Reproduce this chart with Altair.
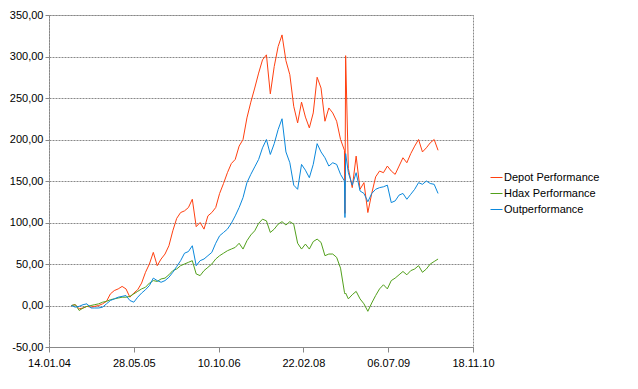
import altair as alt
import pandas as pd

# ---- data ----
start_date = "2004-05-25"
step_days = 23

depot = [0, 1, -4, -3, -1, -2, -1, 0, 2, 5,
         14, 18, 20, 23, 20, 10, 15, 19, 27, 40,
         50, 64, 48, 56, 62, 72, 90, 105, 112, 114,
         118, 128, 95, 100, 92, 108, 112, 118, 135, 147,
         160, 171, 176, 192, 200, 226, 245, 262, 280, 296,
         302, 255, 288, 312, 326, 295, 278, 240, 220, 245,
         227, 214, 232, 275, 262, 222, 238, 232, 222, 200,
         187, 165, 142, 180, 140, 148, 112, 135, 155, 162,
         160, 168, 162, 158, 168, 178, 172, 183, 192, 200,
         185, 190, 196, 200, 187]

hdax = [0, 1, -6, -3, -1, 0, 1, 2, 4, 5,
        7, 8, 9, 10, 10, 11, 14, 17, 20, 22,
        27, 30, 29, 32, 33, 37, 42, 44, 48, 50,
        52, 54, 38, 36, 42, 46, 50, 56, 60, 63,
        66, 68, 70, 75, 68, 78, 85, 90, 99, 104,
        102, 88, 92, 98, 101, 97, 101, 98, 75, 68,
        74, 68, 77, 80, 76, 60, 62, 62, 58, 45,
        16, 8, 13, 17, 8, 2, -7, 3, 12, 20,
        25, 20, 30, 33, 37, 41, 37, 42, 44, 48,
        40, 44, 50, 53, 56]

outperf = [0, -2, -1, 1, 2, -3, -3, -3, -2, 2,
           6, 8, 10, 11, 12, 6, 4, 10, 15, 19,
           24, 33, 30, 28, 30, 34, 40, 47, 54, 63,
           65, 72, 48, 54, 56, 60, 64, 75, 84, 88,
           92, 99, 108, 118, 130, 148, 158, 167, 176, 190,
           200, 182, 195, 212, 225, 185, 172, 145, 140, 170,
           163, 154, 170, 195, 185, 178, 168, 172, 170, 158,
           150, 160, 145, 160, 138, 135, 125, 135, 140, 142,
           143, 145, 124, 126, 133, 135, 128, 134, 140, 148,
           146, 150, 147, 146, 135]

# extra daily points around the October 2008 spike
extra_dates = ["2008-10-24", "2008-10-28"]
extra_depot = [111, 301]
extra_hdax = [14, 15]
extra_outperf = [106, 183]

series_names = ["Depot Performance", "Hdax Performance", "Outperformance"]
colors = ["#ff4010", "#52a01c", "#0a88dc"]
x_ticks = ["2004-01-14", "2005-05-28", "2006-10-10", "2008-02-22", "2009-07-06", "2010-11-18"]
y_ticks = [-50, 0, 50, 100, 150, 200, 250, 300, 350]

# ---- build table ----
dates = pd.date_range(start_date, periods=len(depot), freq=f"{step_days}D")
rows = []
for name, vals, ex in zip(series_names, [depot, hdax, outperf],
                          [extra_depot, extra_hdax, extra_outperf]):
    for d, v in zip(dates, vals):
        rows.append({"date": d.strftime("%Y-%m-%d"), "value": v, "series": name})
    for d, v in zip(extra_dates, ex):
        rows.append({"date": d, "value": v, "series": name})
df = pd.DataFrame(rows).sort_values(["series", "date"]).reset_index(drop=True)
df["order"] = range(len(df))


def dt(s):
    y, m, d = [int(p) for p in s.split("-")]
    return alt.DateTime(year=y, month=m, date=d, utc=True)


font = "Liberation Sans"

chart = alt.Chart(df).mark_line(strokeWidth=1).encode(
    x=alt.X("date:T",
            scale=alt.Scale(type="utc", domain=[dt(x_ticks[0]), dt(x_ticks[-1])], nice=False),
            axis=alt.Axis(values=[dt(t) for t in x_ticks], format="%d.%m.%y", title=None,
                          grid=False, tickSize=5, labelPadding=5, labelFlush=False,
                          domainColor="#888888", tickColor="#888888")),
    y=alt.Y("value:Q",
            scale=alt.Scale(domain=[-50, 350], nice=False, zero=False),
            axis=alt.Axis(values=y_ticks, title=None, tickSize=4, labelPadding=2,
                          labelExpr="(datum.value < 0 ? '-' : '') + replace(format(abs(datum.value), '.2f'), '.', ',')",
                          grid=True, gridColor="#888888", gridDash=[2, 1],
                          domainColor="#888888", domainDash=[2, 1], tickColor="#888888")),
    color=alt.Color("series:N",
                    scale=alt.Scale(domain=series_names, range=colors),
                    legend=alt.Legend(title=None, orient="none", legendX=441, legendY=156,
                                      symbolType="stroke", symbolSize=144, symbolStrokeWidth=1,
                                      labelFontSize=11, labelFont=font, labelColor="#000000",
                                      rowPadding=4, labelOffset=1)),
    order="order:Q",
).properties(
    width=424, height=332,
    autosize=alt.AutoSizeParams(type="none"),
    padding={"left": 41, "top": 7, "right": 157, "bottom": 34},
).configure_view(
    stroke="#888888", strokeDash=[2, 1], strokeWidth=1
).configure_axis(
    labelFont=font, labelFontSize=11, labelColor="#000000"
)

chart.save("out.html", embed_options={"renderer": "svg", "actions": False})
